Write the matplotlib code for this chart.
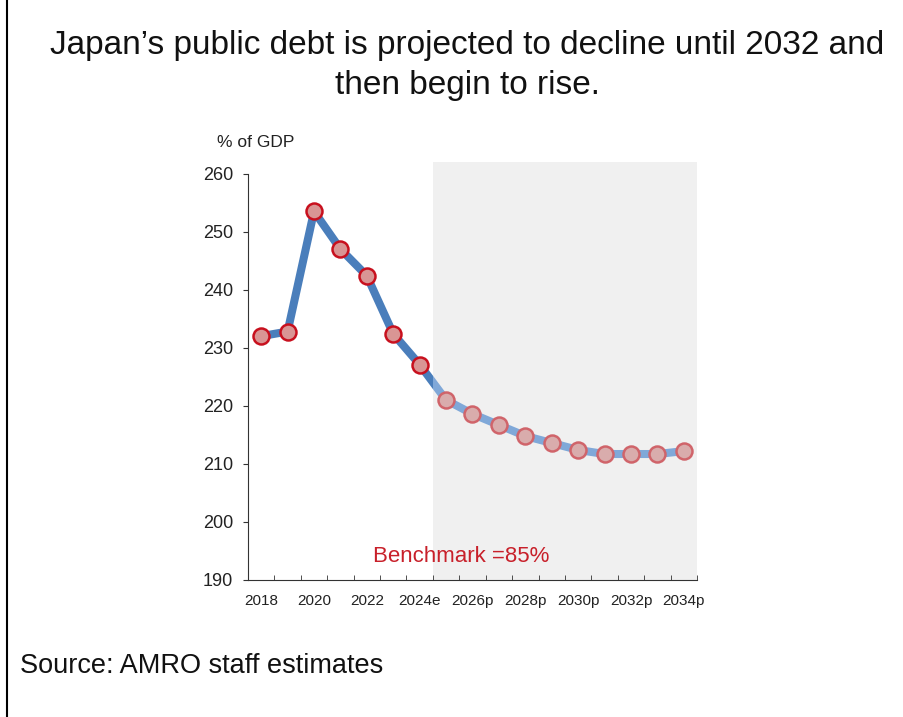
import numpy as np
import matplotlib.pyplot as plt
from matplotlib.lines import Line2D
from matplotlib.patches import Rectangle

plt.rcParams['font.family'] = ['Liberation Sans', 'DejaVu Sans']

years = ['2018', '2019', '2020', '2021', '2022', '2023', '2024e', '2025p',
         '2026p', '2027p', '2028p', '2029p', '2030p', '2031p', '2032p',
         '2033p', '2034p']
debt = [232.0, 232.8, 253.5, 247.0, 242.4, 232.4, 227.1, 221.0,
        218.6, 216.7, 214.8, 213.6, 212.4, 211.7, 211.7, 211.7, 212.2]
tick_labels = ['2018', '2020', '2022', '2024e', '2026p', '2028p', '2030p',
               '2032p', '2034p']
first_proj = 7  # index of 2025p

fig = plt.figure(figsize=(9.04, 7.17), dpi=100)
ax = fig.add_axes([248 / 904, 1 - 580 / 717, 449 / 904, (580 - 162) / 717])

x = np.arange(len(years))
n = len(years)
edge = first_proj - 0.5

# shaded projection area
ax.axvspan(edge, n - 0.5, color='#f0f0f0', lw=0, zorder=0)

# line: dark for actuals, light blue for projections (split at the shading)
dark, = ax.plot(x, debt, color='#4a7ebb', lw=5.8, zorder=2)
dark.set_clip_path(Rectangle((-0.5, 180), edge + 0.5, 100,
                             transform=ax.transData))
light, = ax.plot(x, debt, color='#80a8d8', lw=5.8, zorder=2)
light.set_clip_path(Rectangle((edge, 180), n, 100, transform=ax.transData))

ax.plot(x[:first_proj], debt[:first_proj], ls='none', marker='o', ms=11.5,
        mfc='#d99594', mec='#c8101e', mew=1.8, zorder=3)
ax.plot(x[first_proj:], debt[first_proj:], ls='none', marker='o', ms=11.5,
        mfc='#d9acac', mec='#d0646a', mew=1.8, zorder=3)

ax.set_xlim(-0.5, n - 0.5)
ax.set_ylim(190, 262)
ax.set_yticks(np.arange(190, 261, 10))
ax.spines['left'].set_bounds(190, 260)
ax.spines['top'].set_visible(False)
ax.spines['right'].set_visible(False)
for s in ('left', 'bottom'):
    ax.spines[s].set_color('#333333')

ax.set_xticks(x[::2])
ax.set_xticklabels(tick_labels)
ax.set_xticks(np.arange(-0.5, n), minor=True)
ax.tick_params(axis='x', which='major', length=0, pad=10, labelsize=11,
               colors='#222222')
ax.tick_params(axis='x', which='minor', direction='in', length=3.8,
               color='#333333')
ax.tick_params(axis='y', direction='out', length=3.6, pad=7, labelsize=13,
               colors='#222222', color='#333333')

fig.text(217 / 904, 1 - 147 / 717, '% of GDP', fontsize=12.5,
         color='#222222', ha='left', va='baseline')
ax.text(7.58, 194.1, 'Benchmark =85%', fontsize=16, color='#c8202a',
        ha='center', va='center', zorder=7)

fig.text(467 / 904, 1 - 54 / 717,
         'Japan\u2019s public debt is projected to decline until 2032 and',
         ha='center', va='baseline', fontsize=24, color='#111111')
fig.text(467 / 904, 1 - 94 / 717, 'then begin to rise.',
         ha='center', va='baseline', fontsize=24, color='#111111')
fig.text(20 / 904, 1 - 673 / 717, 'Source: AMRO staff estimates',
         ha='left', va='baseline', fontsize=19.5, color='#111111')

fig.add_artist(Line2D([7 / 904, 7 / 904], [0, 1], color='black', lw=1.5,
                      transform=fig.transFigure))

fig.savefig('out.png', dpi=100)
